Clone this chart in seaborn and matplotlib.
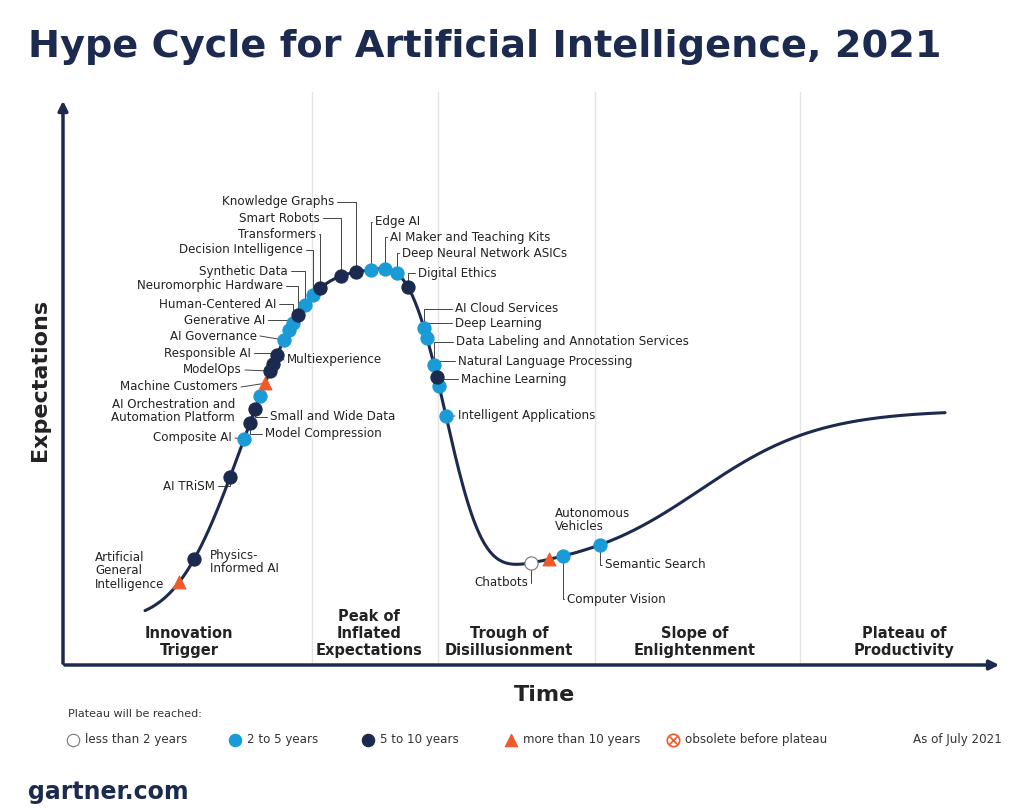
import numpy as np
import pandas as pd
import matplotlib.pyplot as plt
import seaborn as sns

sns.set_theme(style="white")
plt.rcParams['font.family'] = ['DejaVu Sans']

NAVY = "#1b2a4e"
BLUE = "#1a9ad6"
ORANGE = "#ef5a2a"
GREY = "#444444"

# technologies: name, position along the time axis, years to plateau
names = ["Artificial\nGeneral\nIntelligence", "Physics-\nInformed AI", "AI TRiSM", "Composite AI",
         "Model Compression", "Small and Wide Data", "AI Orchestration and\nAutomation Platform",
         "Machine Customers", "ModelOps", "Responsible AI", "Multiexperience", "AI Governance",
         "Generative AI", "Human-Centered AI", "Neuromorphic Hardware", "Synthetic Data",
         "Decision Intelligence", "Transformers", "Smart Robots", "Knowledge Graphs", "Edge AI",
         "AI Maker and Teaching Kits", "Deep Neural Network ASICs", "Digital Ethics",
         "AI Cloud Services", "Deep Learning", "Data Labeling and Annotation Services",
         "Natural Language Processing", "Machine Learning", "Intelligent Applications",
         "Chatbots", "Autonomous\nVehicles", "Computer Vision", "Semantic Search"]
time_pos = [179, 194, 230, 244, 250, 255, 260, 265, 270, 273, 277, 284, 289, 293, 298, 305,
            313, 320, 341, 356, 371, 385, 397, 408, 424, 427, 434, 437, 439, 446,
            531, 549, 563, 600]
plateau = ["more than 10 years", "5 to 10 years", "5 to 10 years", "2 to 5 years",
           "5 to 10 years", "5 to 10 years", "2 to 5 years", "more than 10 years",
           "5 to 10 years", "5 to 10 years", "5 to 10 years", "2 to 5 years", "2 to 5 years",
           "2 to 5 years", "5 to 10 years", "2 to 5 years", "2 to 5 years", "5 to 10 years",
           "5 to 10 years", "5 to 10 years", "2 to 5 years", "2 to 5 years", "2 to 5 years",
           "5 to 10 years", "2 to 5 years", "2 to 5 years", "2 to 5 years", "5 to 10 years",
           "2 to 5 years", "2 to 5 years", "less than 2 years", "more than 10 years",
           "2 to 5 years", "2 to 5 years"]

phases = ["Innovation\nTrigger", "Peak of\nInflated\nExpectations", "Trough of\nDisillusionment",
          "Slope of\nEnlightenment", "Plateau of\nProductivity"]
legend_labels = ["less than 2 years", "2 to 5 years", "5 to 10 years", "more than 10 years",
                 "obsolete before plateau"]

# label layout: (text x, text y, alignment)
label_layout = [(95, 571, "left"), (210, 562, "left"), (215, 486, "right"), (232, 438, "right"),
                (265, 434, "left"), (270, 417, "left"), (235, 411, "right"), (238, 387, "right"),
                (242, 370, "right"), (251, 353, "right"), (287, 360, "left"), (257, 336, "right"),
                (265, 320, "right"), (276, 304, "right"), (283, 286, "right"), (288, 271, "right"),
                (303, 250, "right"), (316, 234, "right"), (320, 218, "right"), (334, 202, "right"),
                (375, 222, "left"), (390, 237, "left"), (402, 253, "left"), (418, 273, "left"),
                (455, 309, "left"), (455, 323, "left"), (456, 342, "left"), (458, 361, "left"),
                (461, 379, "left"), (458, 416, "left"), (528, 583, "right"), (555, 520, "left"),
                (567, 599, "left"), (605, 565, "left")]


def hype(x):
    x = np.asarray(x, dtype=float)
    a = np.where(x < 372, 148.0, 84.0)
    peak = 345 * np.exp(-(np.abs(x - 372) / a) ** 3)
    base = 45 + 50 / (1 + np.exp(-(x - 440) / 30))
    slope = 160 / (1 + np.exp(-(x - 700) / 60))
    return 665 - (peak + base + slope)


fig = plt.figure(figsize=(10.24, 8.08), dpi=100)
ax = fig.add_axes([0, 0, 1, 1])
ax.set_xlim(0, 1024)
ax.set_ylim(808, 0)
ax.axis("off")

# phase dividers
for xd in [312, 438, 595, 800]:
    ax.plot([xd, xd], [92, 665], color="#e4e4e4", lw=1, zorder=0)

# axes with arrows
ax.annotate("", xy=(63, 98), xytext=(63, 666),
            arrowprops=dict(arrowstyle="-|>", color=NAVY, lw=2.5, mutation_scale=14))
ax.annotate("", xy=(1002, 665), xytext=(62, 665),
            arrowprops=dict(arrowstyle="-|>", color=NAVY, lw=2.5, mutation_scale=14))

xs = np.linspace(145, 945, 600)
curve = pd.DataFrame({"x": xs, "y": hype(xs)})
sns.lineplot(data=curve, x="x", y="y", color=NAVY, lw=2.2, ax=ax, sort=False, zorder=2)

df = pd.DataFrame({"name": names, "x": time_pos, "plateau": plateau})
df["y"] = hype(df["x"])

# leader lines and labels
for (name, xp, yp), (tx, ty, ha) in zip(df[["name", "x", "y"]].values, label_layout):
    ex = tx + 3 if ha == "right" else tx - 3
    if "\n" not in name:
        if abs(ty - yp) > 6:
            ax.plot([ex, xp, xp], [ty, ty, yp], color=GREY, lw=0.7, zorder=1)
        else:
            ax.plot([ex, xp], [ty, yp], color=GREY, lw=0.7, zorder=1)
    ax.text(tx, ty, name, ha=ha, va="center", fontsize=8.6, color="#222222",
            linespacing=1.05)

styles = {"less than 2 years": ("o", "white"), "2 to 5 years": ("o", BLUE),
          "5 to 10 years": ("o", NAVY), "more than 10 years": ("^", ORANGE)}
for cat, (mk, col) in styles.items():
    sub = df[df["plateau"] == cat]
    sns.scatterplot(data=sub, x="x", y="y", marker=mk, color=col, s=90 if mk == "o" else 85,
                    edgecolor="#777777" if col == "white" else col, linewidth=0.8,
                    ax=ax, zorder=3, legend=False)

# phase names
for px, ph in zip([189, 369, 509, 695, 904], phases):
    ax.text(px, 658, ph, ha="center", va="bottom", fontsize=10.5, fontweight="bold",
            color="#222222", linespacing=1.15)

ax.text(28, 47, "Hype Cycle for Artificial Intelligence, 2021", fontsize=27.5,
        fontweight="bold", color=NAVY, va="center")
ax.text(40, 380, "Expectations", rotation=90, fontsize=16, fontweight="bold",
        color="#222222", ha="center", va="center")
ax.text(545, 695, "Time", fontsize=16, fontweight="bold", color="#222222",
        ha="center", va="center")

# legend
ax.text(68, 714, "Plateau will be reached:", fontsize=8, color="#333333", va="center")
leg_x = [73, 235, 368, 511, 673]
for lx, lab in zip(leg_x, legend_labels):
    if lab == "obsolete before plateau":
        ax.scatter(lx, 740, s=80, facecolor="white", edgecolor=ORANGE, linewidth=1.2)
        ax.scatter(lx, 740, s=35, marker="x", color=ORANGE, linewidth=1.2)
    else:
        mk, col = styles[lab]
        ax.scatter(lx, 740, s=80, marker=mk, facecolor=col,
                   edgecolor="#777777" if col == "white" else col, linewidth=0.8)
    ax.text(lx + 12, 740, lab, fontsize=8.6, color="#333333", va="center")
ax.text(1002, 740, "As of July 2021", fontsize=8.6, color="#333333", va="center", ha="right")

ax.text(28, 792, "gartner.com", fontsize=17, fontweight="bold", color=NAVY, va="center")

fig.savefig("out.png", dpi=100)
